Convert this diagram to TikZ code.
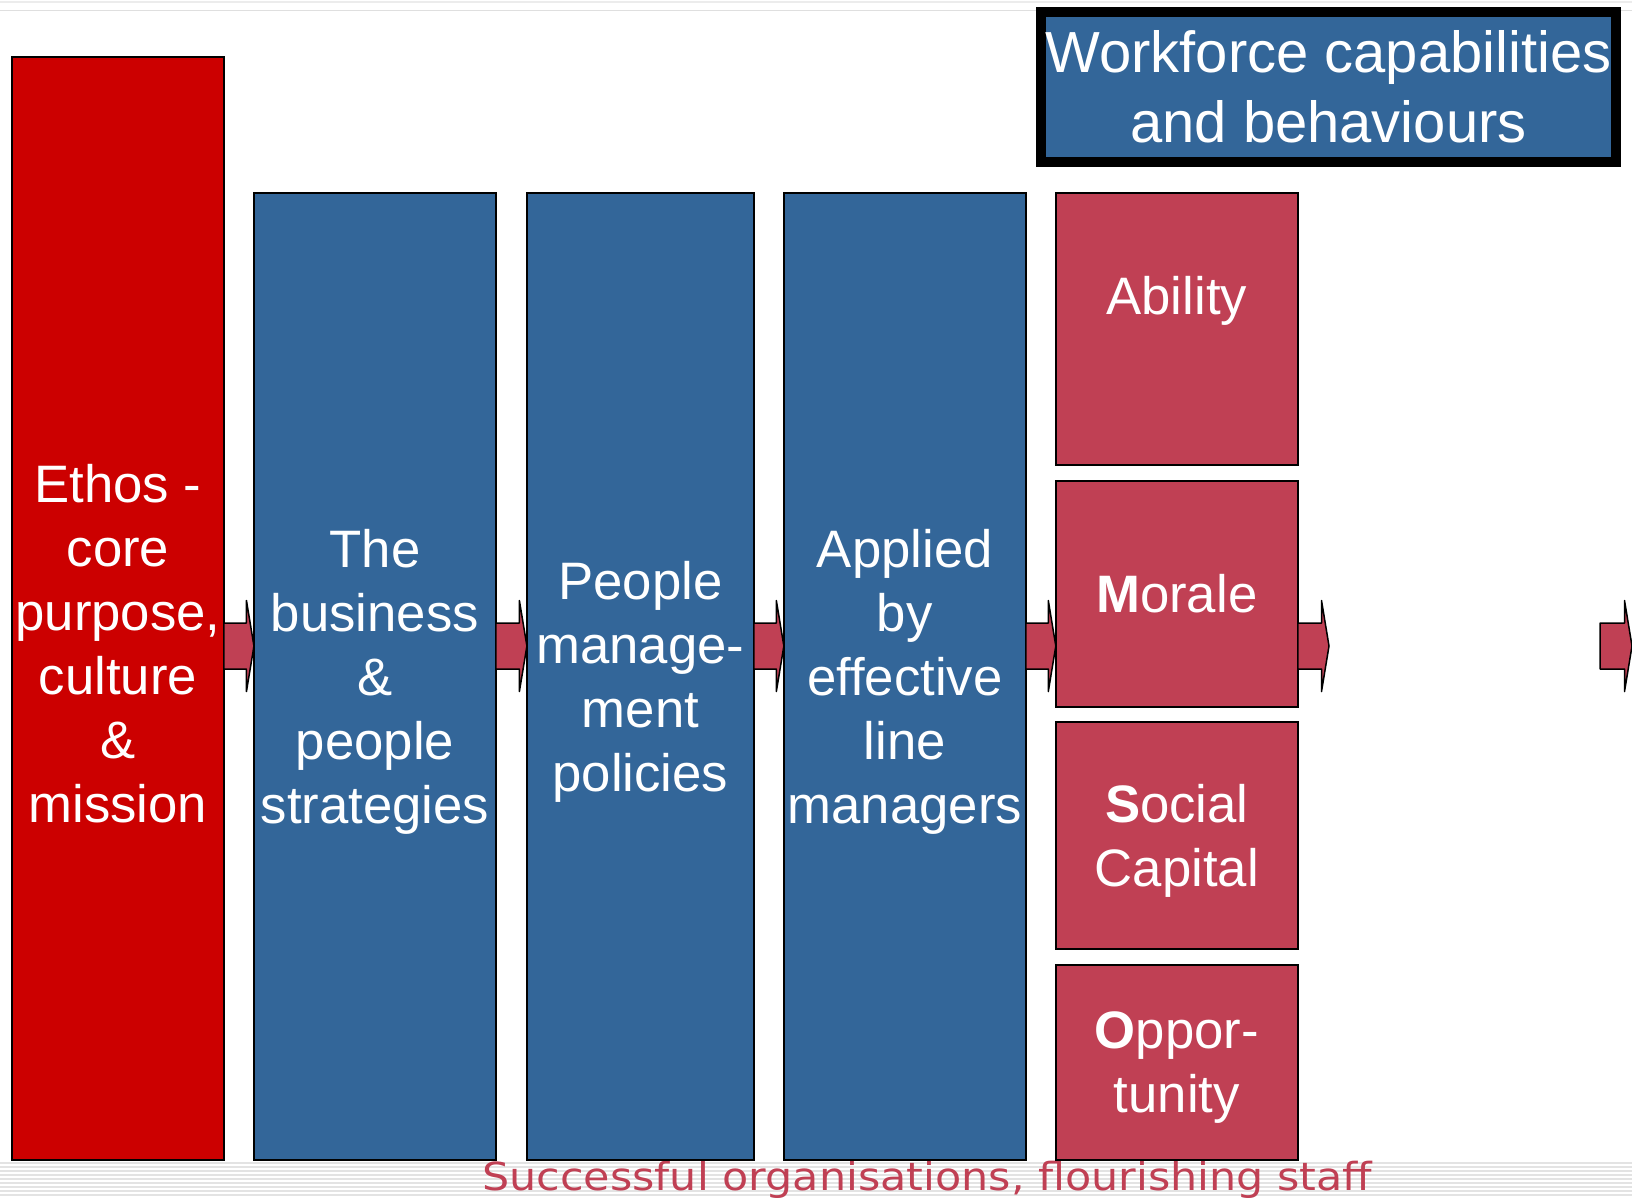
\documentclass[tikz,border=0pt]{standalone}
\usepackage{fontspec}
\setmainfont{Liberation Sans}
\newfontfamily\footfont{DejaVu Sans}
\usepackage{graphicx}
\usetikzlibrary{positioning,calc}

\definecolor{ethosred}{RGB}{204,0,0}
\definecolor{steelblue}{RGB}{51,102,153}
\definecolor{rosered}{RGB}{192,64,84}

\tikzset{
  boxtext/.style={
    text=white, align=center,
    font=\fontsize{30}{36.4}\selectfont},
  colbox/.style={
    rectangle, draw=black, line width=0.04cm,
    boxtext, inner xsep=0pt, inner ysep=2pt, outer sep=0pt,
    minimum width=4.84cm},
  ethosbox/.style={colbox, fill=ethosred,
    minimum width=4.24cm, minimum height=22.06cm},
  stagebox/.style={colbox, fill=steelblue, minimum height=19.34cm, text depth=0pt},
  capbox/.style={colbox, fill=rosered, minimum height=#1},
  headbox/.style={
    rectangle, draw=black, line width=0.2cm, fill=steelblue,
    text=white, align=center, inner sep=0pt,
    font=\fontsize{33}{40}\selectfont,
    minimum width=11.5cm, minimum height=3cm},
  flowarrow/.style={fill=rosered, draw=black, line width=0.03cm, line join=round},
  stripe/.style={draw=gray!22, line width=0.04cm},
}

% block arrow along the axis, from #1 to #2
\newcommand{\flowarrow}[2]{%
  \draw[flowarrow] let \p1=(#1), \p2=(#2) in
    (\x1,\y1+0.46cm) -- (\x2-0.15cm,\y1+0.46cm) -- (\x2-0.15cm,\y1+0.91cm)
    -- (\x2,\y1) -- (\x2-0.15cm,\y1-0.91cm) -- (\x2-0.15cm,\y1-0.46cm)
    -- (\x1,\y1-0.46cm) -- cycle;}

\begin{document}
\begin{tikzpicture}[x=0.02cm, y=-0.02cm]
  \useasboundingbox (0,0) rectangle (1632,1197);

  % slide rules, top and bottom
  \draw[gray!15, line width=0.05cm] (0,2) -- (1632,2);
  \draw[gray!25, line width=0.02cm] (0,10) -- (1632,10);
  \foreach \y in {1163,1167,...,1195}
    \draw[stripe] (0,\y) -- (1632,\y);

  \node[anchor=base west, inner sep=0pt, text=rosered,
        font=\footfont\fontsize{22}{26}\selectfont] (footer) at (482,1190)
    {\resizebox{17.8cm}{\height}{Successful organisations, flourishing staff}};

  % the chain of columns
  \node[ethosbox, anchor=north west,
        label={[boxtext, yshift=-0.71cm]center:{Ethos -\\core\\purpose,\\culture\\\&\\mission}}]
        (ethos) at (12,57) {};
  \node[stagebox, right=0.6cm of ethos.south east, anchor=south west] (business)
    {The\\business\\\&\\people\\strategies};
  \node[stagebox, right=0.62cm of business.south east, anchor=south west,
        minimum width=4.54cm] (policies)
    {People\\manage-\\ment\\policies};
  \node[stagebox, right=0.6cm of policies.south east, anchor=south west] (managers)
    {Applied\\by\\effective\\line\\managers};

  % capabilities stack
  \node[capbox=5.44cm, right=0.6cm of managers.north east, anchor=north west,
        label={[boxtext, yshift=0.56cm]center:Ability}] (ability) {};
  \node[capbox=4.52cm, below=0.32cm of ability] (morale) {\textbf{M}orale};
  \node[capbox=4.54cm, below=0.3cm of morale, text depth=0pt] (social)
    {\textbf{S}ocial\\Capital};
  \node[capbox=3.9cm, below=0.32cm of social, text depth=0pt] (opportunity)
    {\textbf{O}ppor-\\tunity};

  \node[headbox] (workforce) at (1328.5,87) {Workforce capabilities\\and behaviours};

  % arrows
  \coordinate (axis) at (0,646);
  \coordinate (outA) at (1329,646);
  \coordinate (inB) at (1600,646);
  \coordinate (outB) at (1632,646);
  \flowarrow{ethos.east |- axis}{business.west |- axis}
  \flowarrow{business.east |- axis}{policies.west |- axis}
  \flowarrow{policies.east |- axis}{managers.west |- axis}
  \flowarrow{managers.east |- axis}{ability.west |- axis}
  \flowarrow{morale.east |- axis}{outA}
  \flowarrow{inB}{outB}
\end{tikzpicture}
\end{document}
